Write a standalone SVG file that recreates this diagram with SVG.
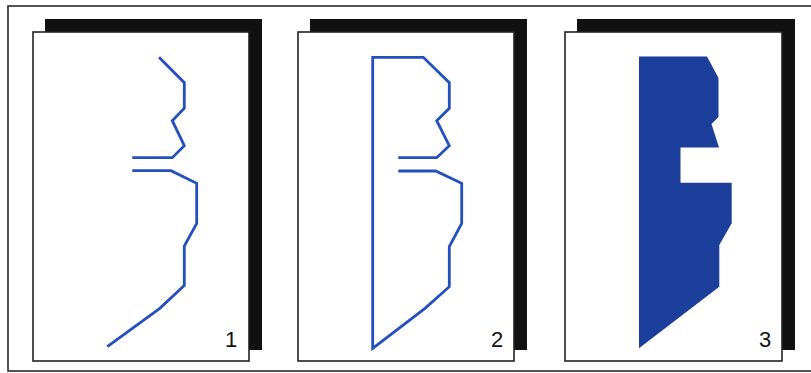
<svg xmlns="http://www.w3.org/2000/svg" width="811" height="373" viewBox="0 0 811 373">
  <style>
    .frame { fill: none; stroke: #2a2a2a; stroke-width: 1.6; }
    .shadow { fill: #111111; }
    .page { fill: #ffffff; stroke: #222222; stroke-width: 1.6; }
    .line { fill: none; stroke: #2450be; stroke-width: 2.8; stroke-linejoin: miter; stroke-linecap: butt; }
    .solid { fill: #1d3f9c; stroke: none; }
    .num { font-family: "Liberation Sans", Arial, sans-serif; font-size: 22px; fill: #111111; text-anchor: middle; }
  </style>
  <rect class="frame" x="8" y="6" width="806" height="365"/>

  <g id="panel1">
    <rect class="shadow" x="45" y="19" width="217" height="331"/>
    <rect class="page" x="33" y="32" width="216" height="329"/>
    <path class="line" d="M159,57.3 L184.3,82.7 L184.3,108.3 L172.3,120.7 L184.3,145.7 L172.3,157.7 L132.3,157.7"/>
    <path class="line" d="M132.3,170.7 L171,170.7 L196.7,183.3 L196.7,223.3 L184.3,246 L184.3,285.5 L159.8,308.3 L107.3,346.7"/>
    <text class="num" x="231" y="347">1</text>
  </g>

  <g id="panel2">
    <rect class="shadow" x="310" y="19" width="217" height="331"/>
    <rect class="page" x="298" y="32" width="216" height="329"/>
    <path class="line" d="M398.3,157.7 L436.7,157.7 L449.3,145.7 L436.7,120.7 L449.3,108.3 L449.3,82.7 L423.3,57.3 L372.7,57.3 L372.7,348.3 L425,308.3 L449.3,286.7 L449.3,246.7 L461.7,223.3 L461.7,183.3 L435.7,171 L398.3,171"/>
    <text class="num" x="497" y="347">2</text>
  </g>

  <g id="panel3">
    <rect class="shadow" x="577" y="19" width="218" height="331"/>
    <rect class="page" x="565" y="32" width="217" height="329"/>
    <polygon class="solid" points="639,56.5 707,56.5 718.5,78 718.5,117 711.5,124 719,147.5 680.5,147.5 680.5,182.7 731.7,182.7 731.7,223.3 719.3,245 719.3,286.7 639,348.3"/>
    <text class="num" x="765" y="347">3</text>
  </g>
</svg>
